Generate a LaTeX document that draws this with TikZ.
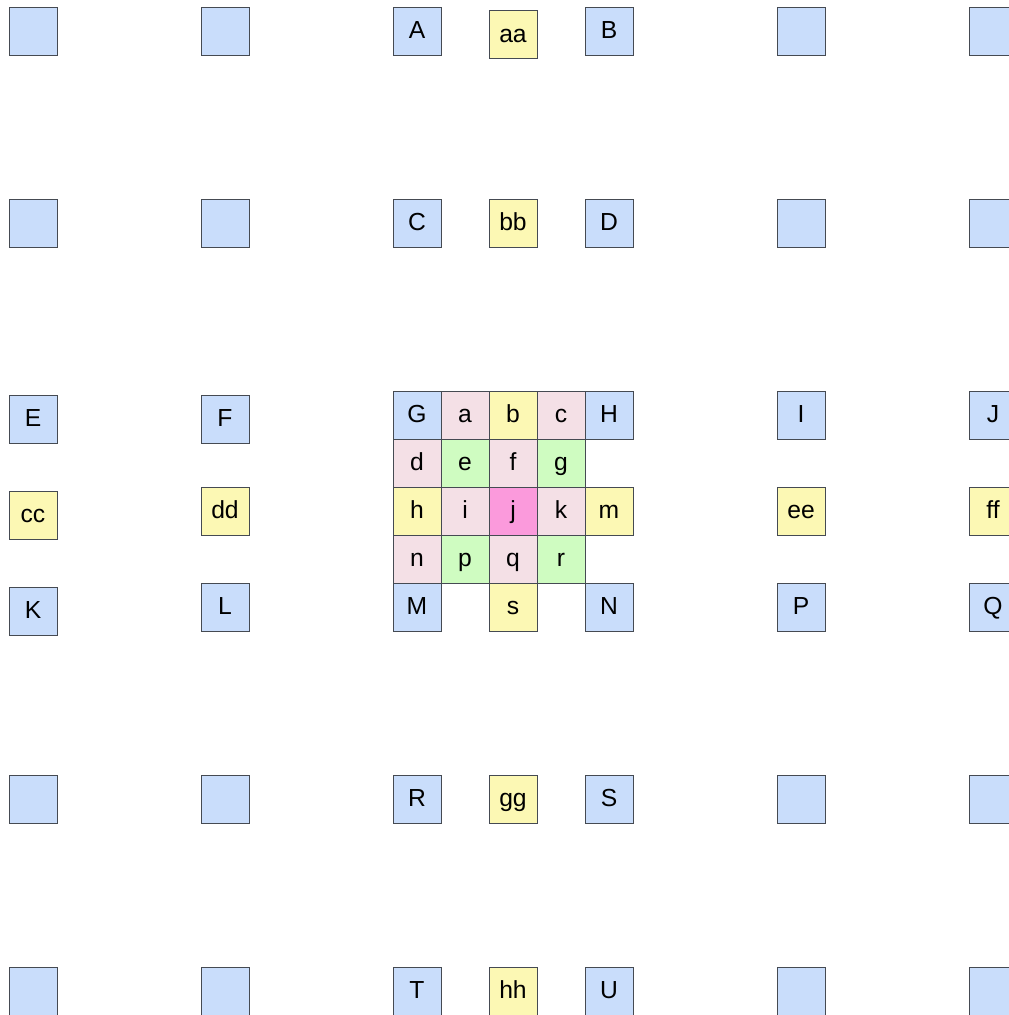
\documentclass[tikz,border=0pt]{standalone}
\usepackage{fontspec}
\setmainfont{Liberation Sans}
\definecolor{bluef}{HTML}{C9DDFB}
\definecolor{yellowf}{HTML}{FCF8B4}
\definecolor{pinkf}{HTML}{F4E0E6}
\definecolor{greenf}{HTML}{CFFCC1}
\definecolor{magf}{HTML}{FB9ADC}
\definecolor{edge}{HTML}{454A52}
\begin{document}
\begin{tikzpicture}[x=0.75pt,y=-0.75pt,
  cell/.style={draw=edge,line width=0.75pt,minimum size=36pt,inner sep=0pt,
    text height=13pt,text depth=1.5pt,font=\fontsize{18.5}{20}\selectfont},
  bl/.style={cell,fill=bluef},
  ye/.style={cell,fill=yellowf},
  pk/.style={cell,fill=pinkf},
  gr/.style={cell,fill=greenf},
  mg/.style={cell,fill=magf}]
\useasboundingbox (0,0) rectangle (1009,1015);
\begin{scope}
\clip (0,0) rectangle (1009,1015);
% row 1
\node[bl] (r1c1) at (33,31) {};
\node[bl] (r1c2) at (225,31) {};
\node[bl] (A) at (417,31) {A};
\node[ye] (aa) at (513,34.5) {aa};
\node[bl] (B) at (609,31) {B};
\node[bl] (r1c6) at (801,31) {};
\node[bl] (r1c7) at (993,31) {};
% row 2
\node[bl] (r2c1) at (33,223) {};
\node[bl] (r2c2) at (225,223) {};
\node[bl] (C) at (417,223) {C};
\node[ye] (bb) at (513,223) {bb};
\node[bl] (D) at (609,223) {D};
\node[bl] (r2c6) at (801,223) {};
\node[bl] (r2c7) at (993,223) {};
% row 3
\node[bl] (E) at (33,419) {E};
\node[bl] (F) at (225,419) {F};
\node[bl] (G) at (417,415) {G};
\node[pk] (a) at (465,415) {a};
\node[ye] (b) at (513,415) {b};
\node[pk] (c) at (561,415) {c};
\node[bl] (H) at (609,415) {H};
\node[bl] (I) at (801,415) {I};
\node[bl] (J) at (993,415) {J};
% row d
\node[pk] (d) at (417,463) {d};
\node[gr] (e) at (465,463) {e};
\node[pk] (f) at (513,463) {f};
\node[gr] (g) at (561,463) {g};
% row h
\node[ye] (cc) at (33,515) {cc};
\node[ye] (dd) at (225,511) {dd};
\node[ye] (h) at (417,511) {h};
\node[pk] (i) at (465,511) {i};
\node[mg] (j) at (513,511) {j};
\node[pk] (k) at (561,511) {k};
\node[ye] (m) at (609,511) {m};
\node[ye] (ee) at (801,511) {ee};
\node[ye] (ff) at (993,511) {ff};
% row n
\node[pk] (n) at (417,559) {n};
\node[gr] (p) at (465,559) {p};
\node[pk] (q) at (513,559) {q};
\node[gr] (r) at (561,559) {r};
% row M
\node[bl] (K) at (33,611) {K};
\node[bl] (L) at (225,607) {L};
\node[bl] (M) at (417,607) {M};
\node[ye] (s) at (513,607) {s};
\node[bl] (N) at (609,607) {N};
\node[bl] (P) at (801,607) {P};
\node[bl] (Q) at (993,607) {Q};
% row R
\node[bl] (r6c1) at (33,799) {};
\node[bl] (r6c2) at (225,799) {};
\node[bl] (R) at (417,799) {R};
\node[ye] (gg) at (513,799) {gg};
\node[bl] (S) at (609,799) {S};
\node[bl] (r6c6) at (801,799) {};
\node[bl] (r6c7) at (993,799) {};
% row T
\node[bl] (r7c1) at (33,991) {};
\node[bl] (r7c2) at (225,991) {};
\node[bl] (T) at (417,991) {T};
\node[ye] (hh) at (513,991) {hh};
\node[bl] (U) at (609,991) {U};
\node[bl] (r7c6) at (801,991) {};
\node[bl] (r7c7) at (993,991) {};
\end{scope}
\end{tikzpicture}
\end{document}
